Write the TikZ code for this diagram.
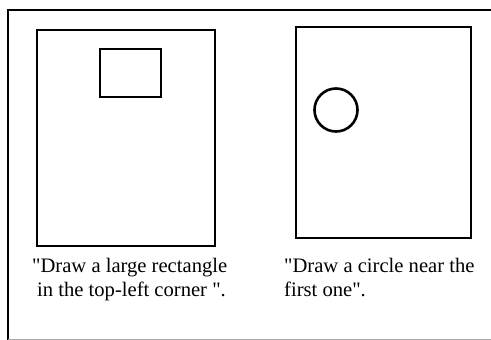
\documentclass[tikz,border=0pt]{standalone}
\usepackage{fontspec}
\setmainfont{Liberation Serif}[Ligatures=TeXOff]
\begin{document}
\begin{tikzpicture}[x=1pt,y=-1pt,
  outline/.style={draw=black,line width=2.6pt},
  captiontext/.style={anchor=base west,inner sep=0pt,font=\fontsize{20.6}{24}\selectfont}]
\useasboundingbox (0,0) rectangle (491,340);
\fill[white] (0,0) rectangle (491,340);
% frame
\draw[line width=2.4pt] (8,340) -- (8,10) -- (491,10);
\draw[gray!70,line width=1pt] (8,339) -- (491,339);
% left panel
\draw[outline] (37,30) rectangle (215,246);
\draw[outline] (100,49) rectangle (161,97);
% right panel
\draw[outline] (296,27) rectangle (471,238);
\draw[outline] (336,110) circle (21.5);
% captions
\node[captiontext] (l1) at (32,272) {"Draw a large rectangle};
\node[captiontext] (l2) at (37,296) {in the top-left corner ".};
\node[captiontext] (r1) at (284,272) {"Draw a circle near the};
\node[captiontext] (r2) at (284,296) {first one".};
\end{tikzpicture}
\end{document}
